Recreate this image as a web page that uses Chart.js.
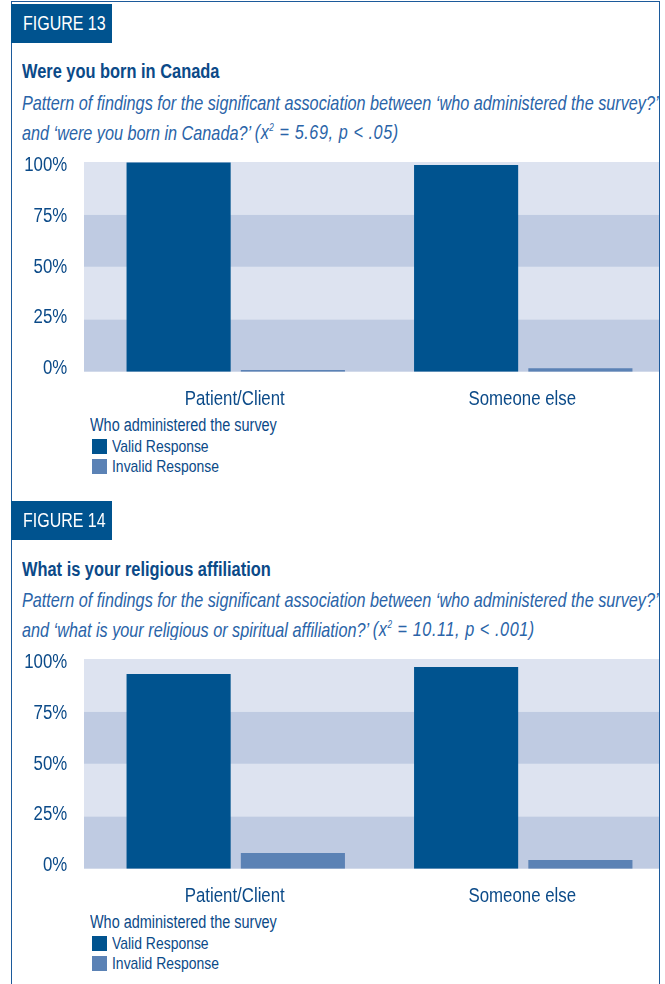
<!DOCTYPE html>
<html>
<head>
<meta charset="utf-8">
<script src="https://cdn.jsdelivr.net/npm/chart.js@4.4.1/dist/chart.umd.min.js"></script>
<style>
    body {
        margin: 0;
        width: 665px;
        height: 984px;
        overflow: hidden;
        background: #ffffff;
        position: relative;
        font-family: "Liberation Sans", Arial, sans-serif;
    }
    .frame {
        position: absolute;
        left: 11px;
        top: 1px;
        width: 647px;
        height: 1000px;
        border: 1.5px solid #1c5a9b;
        z-index: 5;
    }
    .section {
        position: absolute;
        left: 0;
        width: 665px;
        height: 497px;
    }
    /* narrow text: Liberation Sans squeezed to a condensed width */
    .narrow {
        display: inline-block;
        white-space: nowrap;
        transform: scaleX(0.82);
        transform-origin: 0 50%;
    }
    .figbox {
        position: absolute;
        left: 11px;
        top: 4px;
        width: 101px;
        height: 39px;
        background: #00538f;
        color: #ffffff;
        font-size: 19.5px;
        line-height: 39px;
        z-index: 6;
    }
    .figbox .narrow {
        position: absolute;
        left: 11.5px;
        top: 0;
    }
    .title {
        position: absolute;
        left: 22px;
        top: 60px;
        font-size: 20px;
        font-weight: bold;
        color: #0b4a88;
        line-height: 22px;
    }
    .subtitle {
        position: absolute;
        left: 22px;
        top: 90.5px;
        width: 637px;
        height: 52px;
        overflow: hidden;
        font-size: 19.8px;
        font-style: italic;
        color: #2a64a8;
        line-height: 25px;
    }
    .subtitle .narrow {
        display: block;
    }
    .subtitle .stat {
        letter-spacing: 0.7px;
    }
    .chartwrap {
        position: absolute;
        left: 0;
        top: 150px;
        width: 659px;
        height: 262px;
        overflow: hidden;
    }
    .chartbox {
        position: relative;
        width: 680px;
        height: 262px;
    }
    .legend {
        position: absolute;
        left: 90px;
        top: 415px;
        color: #0b4a88;
    }
    .legend .head {
        position: absolute;
        left: 0;
        top: 0;
        font-size: 17.6px;
        line-height: 20px;
    }
    .legend .item {
        position: absolute;
        left: 21.8px;
        font-size: 17px;
        line-height: 20px;
    }
    .legend .swatch {
        position: absolute;
        left: 2.2px;
        width: 14.5px;
        height: 14.5px;
    }
</style>
</head>
<body>
<div class="frame"></div>

<div class="section" style="top:0px">
    <div class="figbox"><span class="narrow">FIGURE 13</span></div>
    <div class="title"><span class="narrow">Were you born in Canada</span></div>
    <div class="subtitle">
        <span class="narrow">Pattern of findings for the significant association between ‘who administered the survey?’</span>
        <span class="narrow">and ‘were you born in Canada?’ <span class="stat">(<i>x</i><sup style="font-size:10px">2</sup> = 5.69, p &lt; .05)</span></span>
    </div>
    <div class="chartwrap"><div class="chartbox"><canvas id="fig13"></canvas></div></div>
    <div class="legend" id="legend13"></div>
</div>

<div class="section" style="top:497px">
    <div class="figbox"><span class="narrow">FIGURE 14</span></div>
    <div class="title" style="top:61px"><span class="narrow">What is your religious affiliation</span></div>
    <div class="subtitle">
        <span class="narrow">Pattern of findings for the significant association between ‘who administered the survey?’</span>
        <span class="narrow">and ‘what is your religious or spiritual affiliation?’ <span class="stat">(<i>x</i><sup style="font-size:10px">2</sup> = 10.11, p &lt; .001)</span></span>
    </div>
    <div class="chartwrap"><div class="chartbox"><canvas id="fig14"></canvas></div></div>
    <div class="legend" id="legend14"></div>
</div>

<script>
// Categories and series (percent of responses)
const categories = ["Patient/Client", "Someone else"];
const seriesNames = ["Valid Response", "Invalid Response"];
const legendTitle = "Who administered the survey";
const yTicks = [0, 25, 50, 75, 100];

// Figure 13 - Were you born in Canada
const fig13Valid = [99.8, 98.6];
const fig13Invalid = [0.8, 1.7];

// Figure 14 - Religious affiliation
const fig14Valid = [92.8, 96.2];
const fig14Invalid = [7.5, 4.1];

const validColor = "#00538f";
const invalidColor = "#5b82b5";
const bandLight = "#dde3f0";
const bandDark = "#bfcbe2";
const textBlue = "#0b4a88";
const squeeze = 0.82;

// Draws the alternating horizontal bands behind the bars
const bandsPlugin = {
    id: "bands",
    beforeDatasetsDraw(chart) {
        const ctx = chart.ctx;
        const area = chart.chartArea;
        const y = chart.scales.y;
        ctx.save();
        for (let i = 0; i < yTicks.length - 1; i++) {
            const top = y.getPixelForValue(yTicks[i + 1]);
            const bottom = y.getPixelForValue(yTicks[i]);
            ctx.fillStyle = i % 2 === 0 ? bandDark : bandLight;
            ctx.fillRect(area.left - 8, top, area.right - area.left + 8, bottom - top);
        }
        ctx.restore();
    }
};

// Axis labels in a condensed look (canvas text squeezed horizontally)
function narrowText(ctx, text, x, y) {
    ctx.save();
    ctx.translate(x, y);
    ctx.scale(squeeze, 1);
    ctx.fillText(text, 0, 0);
    ctx.restore();
}

const axisLabelsPlugin = {
    id: "axisLabels",
    afterDraw(chart) {
        const ctx = chart.ctx;
        const area = chart.chartArea;
        const x = chart.scales.x;
        const y = chart.scales.y;
        ctx.save();
        ctx.fillStyle = textBlue;
        ctx.font = "20.5px 'Liberation Sans', Arial, sans-serif";
        ctx.textBaseline = "middle";

        ctx.textAlign = "right";
        yTicks.forEach(v => {
            const py = y.getPixelForValue(v) + (v - 50) / 50 * 3.5;
            narrowText(ctx, v + "%", area.left - 24.8, py);
        });

        ctx.textAlign = "center";
        categories.forEach((c, i) => {
            narrowText(ctx, c, x.getPixelForValue(i) - 1, area.bottom + 27.5);
        });
        ctx.restore();
    }
};

function makeChart(canvasId, legendId, valid, invalid) {
    const ctx = document.getElementById(canvasId).getContext("2d");
    new Chart(ctx, {
        type: "bar",
        data: {
            labels: categories,
            datasets: [
                {
                    label: seriesNames[0],
                    data: valid,
                    backgroundColor: validColor,
                    barPercentage: 0.911,
                    categoryPercentage: 0.795
                },
                {
                    label: seriesNames[1],
                    data: invalid,
                    backgroundColor: invalidColor,
                    barPercentage: 0.911,
                    categoryPercentage: 0.795
                }
            ]
        },
        options: {
            responsive: true,
            maintainAspectRatio: false,
            animation: false,
            layout: {
                padding: { top: 12, right: 13, left: 0, bottom: 0 }
            },
            plugins: {
                legend: { display: false },
                tooltip: { enabled: false }
            },
            scales: {
                x: {
                    grid: { display: false },
                    border: { display: false },
                    ticks: { display: false },
                    afterFit(scale) {
                        scale.height = 40.3;
                    }
                },
                y: {
                    min: 0,
                    max: 100,
                    grid: { display: false, drawTicks: false },
                    border: { display: false },
                    ticks: { display: false, stepSize: 25 },
                    afterFit(scale) {
                        scale.width = 92;
                    }
                }
            }
        },
        plugins: [bandsPlugin, axisLabelsPlugin]
    });

    // Legend below the chart
    const legend = document.getElementById(legendId);
    const head = document.createElement("div");
    head.className = "head";
    head.innerHTML = '<span class="narrow"></span>';
    head.firstChild.textContent = legendTitle;
    legend.appendChild(head);
    [validColor, invalidColor].forEach((color, i) => {
        const sw = document.createElement("div");
        sw.className = "swatch";
        sw.style.background = color;
        sw.style.top = (24 + i * 20) + "px";
        legend.appendChild(sw);
        const item = document.createElement("div");
        item.className = "item";
        item.style.top = (22 + i * 20) + "px";
        item.innerHTML = '<span class="narrow"></span>';
        item.firstChild.textContent = seriesNames[i];
        legend.appendChild(item);
    });
}

document.addEventListener("DOMContentLoaded", () => {
    makeChart("fig13", "legend13", fig13Valid, fig13Invalid);
    makeChart("fig14", "legend14", fig14Valid, fig14Invalid);
});
</script>
</body>
</html>
